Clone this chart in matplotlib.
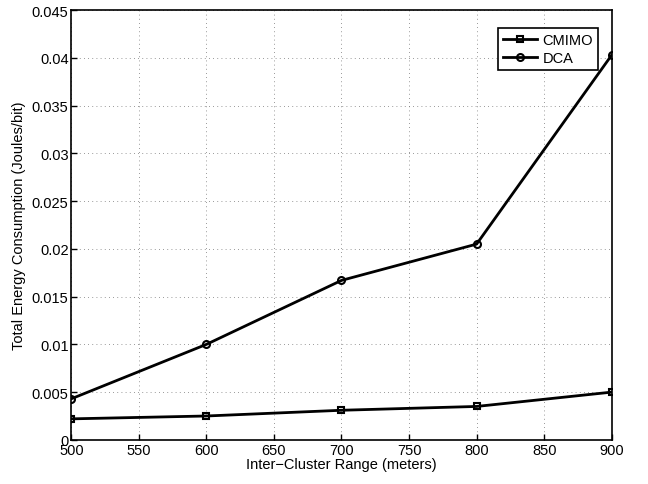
import numpy as np
import matplotlib
matplotlib.use('Agg')
from matplotlib import pyplot as plt

plt.rcParams['font.family'] = ['Liberation Sans', 'DejaVu Sans']
plt.rcParams['font.size'] = 10.5

ranges = [500, 600, 700, 800, 900]
cmimo = [0.0022, 0.0025, 0.0031, 0.0035, 0.0050]
dca = [0.0043, 0.0100, 0.0167, 0.0205, 0.0403]

fig = plt.figure(figsize=(6.48, 4.85), dpi=100)
ax = fig.add_axes([0.110, 0.091, 0.834, 0.886])

ax.plot(ranges, cmimo, 'k-', marker='s', markersize=5, markerfacecolor='none',
        markeredgewidth=1.5, linewidth=2, label='CMIMO')
ax.plot(ranges, dca, 'k-', marker='o', markersize=5, markerfacecolor='none',
        markeredgewidth=1.5, linewidth=2, label='DCA')

ax.set_xlim(500, 900)
ax.set_ylim(0, 0.045)
ax.set_xticks(np.arange(500, 901, 50))
ax.set_yticks(np.arange(0, 0.0451, 0.005))
ax.set_yticklabels(['0', '0.005', '0.01', '0.015', '0.02', '0.025', '0.03',
                    '0.035', '0.04', '0.045'])
ax.tick_params(direction='in', length=4, width=1, pad=2)
for s in ax.spines.values():
    s.set_linewidth(1.2)
ax.grid(True, linestyle=(0, (1, 4)), color='#777777', linewidth=0.6)

ax.set_xlabel('Inter\u2212Cluster Range (meters)', labelpad=0)
ax.set_ylabel('Total Energy Consumption (Joules/bit)', labelpad=4)

leg = ax.legend(loc='upper right', bbox_to_anchor=(0.975, 0.958), fancybox=False,
                framealpha=1, edgecolor='black', borderpad=0.35, handlelength=2.3,
                labelspacing=0.25, handletextpad=0.4, borderaxespad=0)
leg.get_frame().set_linewidth(1.2)

fig.savefig('out.png', dpi=100)
